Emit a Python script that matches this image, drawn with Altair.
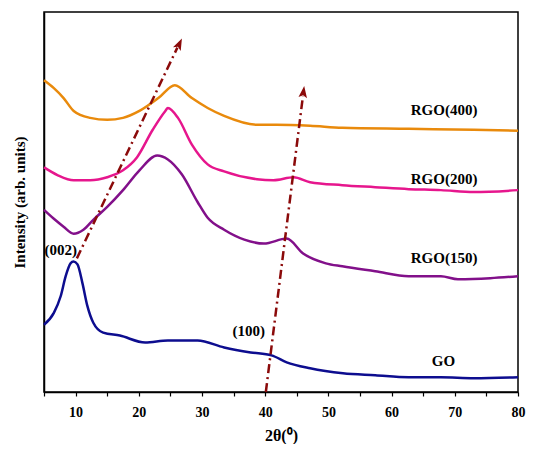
import altair as alt
import pandas as pd

# ---- data (2theta, intensity in arbitrary units) ----
go_x = [5.0, 6.56, 7.65, 8.43, 9.21, 9.68, 10.3, 11.08, 11.86, 12.8, 14.36, 17.0, 21.0, 24.6, 29.3, 33.5, 37.7, 41.0, 43.4, 47.1, 52.3, 57.4, 62.7, 67.8, 73.0, 80.0]
go_y = [68, 80, 97, 117, 130, 132, 129, 110, 87, 70, 60, 57, 50, 52, 52, 45, 40, 37, 30, 24, 19, 17, 15, 15, 14, 15]

r150_x = [5.0, 6.56, 8.1, 9.68, 11.24, 12.8, 15.0, 17.5, 20.1, 22.9, 24.6, 26.8, 29.3, 30.9, 33.5, 36.7, 39.8, 43.4, 46.0, 49.6, 52.2, 57.4, 62.7, 67.8, 70.5, 75.6, 80.0]
r150_y = [184, 175, 167, 160, 164, 174, 187, 204, 224, 239, 235, 220, 192, 176, 164, 154, 150, 155, 140, 130, 127, 122, 117, 117, 114, 115, 117]

r200_x = [5.0, 7.2, 9.7, 12.3, 15.0, 17.5, 19.7, 22.2, 24.2, 24.6, 26.2, 28.4, 30.9, 33.5, 38.7, 41.3, 44.5, 47.1, 52.2, 57.4, 62.7, 67.8, 73.0, 80.0]
r200_y = [227, 219, 214, 214, 217, 224, 237, 265, 284, 287, 277, 250, 230, 223, 215, 214, 217, 212, 209, 207, 205, 204, 202, 204]

r400_x = [5.0, 6.56, 8.1, 9.7, 12.3, 15.0, 17.5, 20.1, 23.1, 25.7, 28.4, 30.9, 33.5, 38.7, 41.8, 47.1, 52.2, 62.7, 73.0, 80.0]
r400_y = [315, 307, 297, 284, 277, 275, 277, 284, 297, 310, 297, 287, 279, 270, 270, 269, 267, 266, 265, 264]

series_names = ["GO", "RGO(150)", "RGO(200)", "RGO(400)"]
series_colors = ["#0D0D8F", "#82108A", "#E6168D", "#E98A0C"]

label_text = ["RGO(400)", "RGO(200)", "RGO(150)", "GO", "(002)", "(100)"]
label_x = [68.3, 68.3, 68.3, 68.2, 7.65, 37.4]
label_y = [285, 215, 135, 31, 144, 62]

arrow_id = ["a1", "a1", "a2", "a2"]
arrow_x = [10.2, 26.1, 40.1, 45.97]
arrow_y = [135, 348, 0, 299]

head_x = [26.4, 46.05]
head_y = [351.6, 303]
head_angle = [25.7, 7.2]

x_ticks = [5, 10, 15, 20, 25, 30, 35, 40, 45, 50, 55, 60, 65, 70, 75, 80]

# ---- tables ----
rows = []
for name, xs, ys in zip(series_names,
                        [go_x, r150_x, r200_x, r400_x],
                        [go_y, r150_y, r200_y, r400_y]):
    for i, (a, b) in enumerate(zip(xs, ys)):
        rows.append({"series": name, "order": i, "t": a, "I": b})
curves = pd.DataFrame(rows)
labels = pd.DataFrame({"text": label_text, "t": label_x, "I": label_y})
arrows = pd.DataFrame({"id": arrow_id, "t": arrow_x, "I": arrow_y})
heads = pd.DataFrame({"t": head_x, "I": head_y, "ang": head_angle})

FONT = "Liberation Serif"
W, H = 474, 380

xscale = alt.Scale(domain=[5, 80], nice=False, zero=False)
yscale = alt.Scale(domain=[0, 384], nice=False)

xaxis = alt.Axis(values=x_ticks, tickCount=40,
                 labelExpr="datum.value % 10 == 0 ? datum.label : ''",
                 labelOverlap=False, labelFlush=False, labelBound=False,
                 title="2θ(⁰)", grid=False, tickSize=4, tickColor="black", tickWidth=1.2,
                 labelFont=FONT, labelFontWeight="bold", labelFontSize=14, labelColor="black",
                 labelPadding=9, titleFont=FONT, titleFontWeight="bold", titleFontSize=16,
                 titleColor="black", titleX=W / 2, titleY=43, titleBaseline="middle",
                 titleAlign="center", domainColor="black", domainWidth=1.5)
yaxis = alt.Axis(title="Intensity (arb. units)", labels=False, ticks=False, grid=False,
                 titleFont=FONT, titleFontWeight="bold", titleFontSize=15, titleColor="black",
                 titleAngle=270, titleX=-25, titleY=190, titleAlign="center",
                 titleBaseline="middle", domainColor="black", domainWidth=1.5)

lines = alt.Chart(curves).mark_line(strokeWidth=2.5, interpolate="monotone").encode(
    x=alt.X("t:Q", scale=xscale, axis=xaxis),
    y=alt.Y("I:Q", scale=yscale, axis=yaxis),
    color=alt.Color("series:N", scale=alt.Scale(domain=series_names, range=series_colors), legend=None),
    order="order:Q",
)

text = alt.Chart(labels).mark_text(font=FONT, fontWeight="bold", fontSize=15, color="black",
                                   align="center", baseline="middle").encode(
    x=alt.X("t:Q", scale=xscale), y=alt.Y("I:Q", scale=yscale), text="text:N")

arrow_lines = alt.Chart(arrows).mark_line(color="#8B0A0A", strokeWidth=2.5,
                                          strokeDash=[9, 4, 2, 4]).encode(
    x=alt.X("t:Q", scale=xscale), y=alt.Y("I:Q", scale=yscale), detail="id:N")

arrow_heads = alt.Chart(heads).mark_point(
    shape="M0,-1L0.7,0.9L0,0.5L-0.7,0.9Z", filled=True, color="#8B0A0A", opacity=1, size=150
).encode(x=alt.X("t:Q", scale=xscale), y=alt.Y("I:Q", scale=yscale),
         angle=alt.Angle("ang:Q", scale=None))

chart = alt.layer(lines, arrow_lines, arrow_heads, text).properties(
    width=W, height=H,
    background="white",
    autosize=alt.AutoSizeParams(type="none"),
    padding={"left": 36, "top": 4, "right": 8, "bottom": 52},
).configure_view(stroke="black", strokeWidth=1.5).configure_axisX(labelOverlap=False)

chart.save("out.html", embed_options={"renderer": "svg", "actions": False})
